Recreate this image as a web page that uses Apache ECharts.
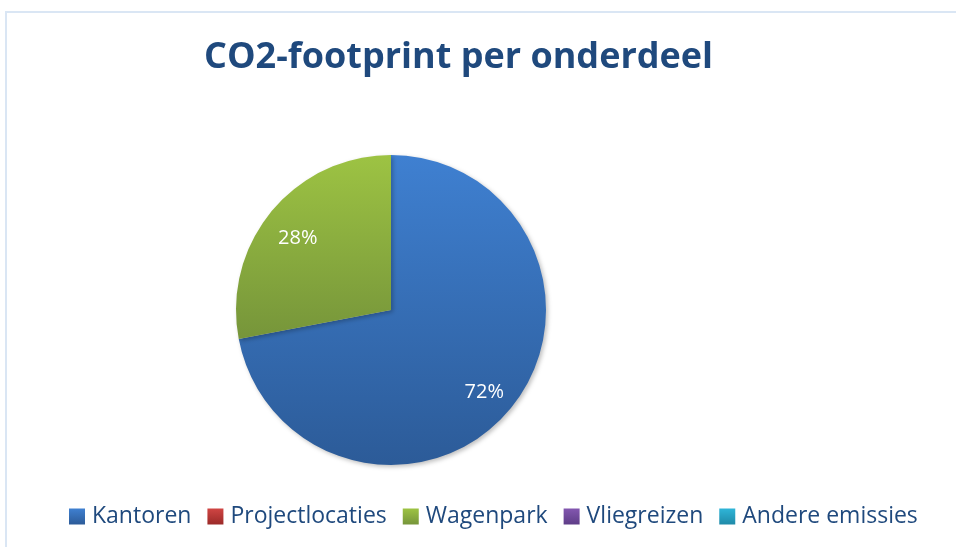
<!DOCTYPE html>
<html>
<head>
<meta charset="utf-8">
<script src="https://cdn.jsdelivr.net/npm/echarts@6/dist/echarts.min.js"></script>
<style>
  html, body { margin: 0; padding: 0; background: #fff; }
  #frame { position: absolute; left: 5px; top: 11px; width: 1000px; height: 600px; border: 2px solid #dae6f4; }
  #ct1 { position: absolute; left: 0; top: 0; width: 956px; height: 547px; }
</style>
</head>
<body>
<div id="frame"></div>
<div id="ct1"></div>
<script>
var categories = ['Kantoren', 'Projectlocaties', 'Wagenpark', 'Vliegreizen', 'Andere emissies'];
var values = [72, 0, 28, 0, 0];
var topColors = ['#3f80d1', '#d04543', '#9dc343', '#8357b0', '#2fb5d8'];
var bottomColors = ['#2c5b98', '#9b2a28', '#76953a', '#5e3d87', '#1f8aa8'];

function grad(i) {
	return new echarts.graphic.LinearGradient(0, 0, 0, 1, [
		{ offset: 0, color: topColors[i] },
		{ offset: 1, color: bottomColors[i] }
	]);
}

var pieData = [];
var labelData = [];
for (var i = 0; i < categories.length; i++) {
	pieData.push({ name: categories[i], value: values[i], itemStyle: { color: grad(i) } });
	labelData.push({ name: categories[i], value: values[i] });
}

var myChart1 = echarts.init(document.getElementById('ct1'));
var option1 = {
	animation: false,
	title: {
		text: 'CO2-footprint per onderdeel',
		left: 204,
		top: 40,
		padding: 0,
		textStyle: { fontFamily: 'Open Sans', fontWeight: 'bold', fontSize: 36, color: '#1f497d' }
	},
	legend: {
		data: categories,
		top: 505,
		left: 69,
		padding: 0,
		itemWidth: 16,
		itemHeight: 16,
		itemGap: 16,
		icon: 'rect',
		textStyle: { fontFamily: 'Open Sans', fontSize: 23, color: '#1f497d', padding: [0, 0, 0, 2] }
	},
	series: [{
		type: 'pie',
		center: [391, 310],
		radius: [0, 155],
		startAngle: 90,
		clockwise: true,
		silent: true,
		label: { show: false },
		labelLine: { show: false },
		itemStyle: { shadowBlur: 4, shadowOffsetX: 2, shadowOffsetY: 2, shadowColor: 'rgba(0,0,0,0.25)' },
		data: pieData
	}, {
		type: 'pie',
		center: [391, 310],
		radius: [81, 155],
		startAngle: 90,
		clockwise: true,
		silent: true,
		itemStyle: { color: 'rgba(0,0,0,0)' },
		labelLine: { show: false },
		label: {
			show: true,
			position: 'inside',
			fontFamily: 'Open Sans',
			fontSize: 20,
			color: '#fff',
			offset: [0, 5],
			formatter: function (p) { return p.value ? p.value + '%' : ''; }
		},
		data: labelData
	}]
};
myChart1.setOption(option1, true);
window.onresize = myChart1.resize;
</script>
</body>
</html>
